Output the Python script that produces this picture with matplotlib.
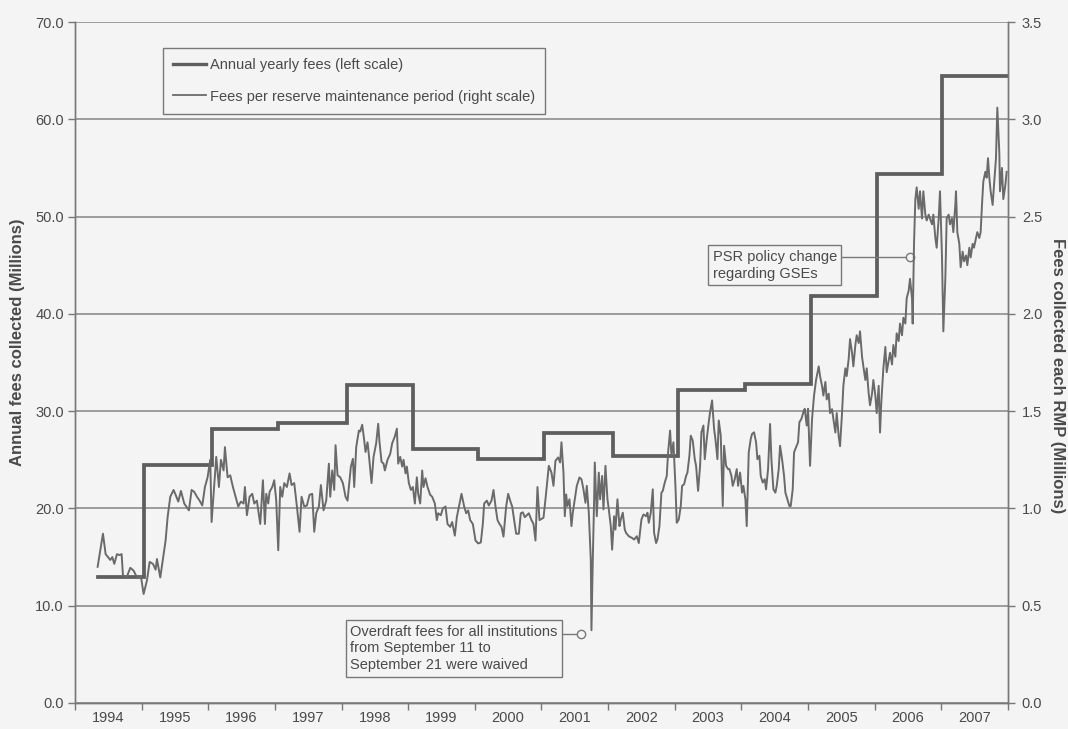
import matplotlib
matplotlib.use("Agg")
import matplotlib.pyplot as plt
from matplotlib.lines import Line2D
import numpy as np

plt.rcParams['font.family'] = ['Liberation Sans', 'DejaVu Sans']

# ---------------------------------------------------------------- data
years = list(range(1994, 2008))
year_labels = [str(y) for y in years]
left_ticks = [0, 10, 20, 30, 40, 50, 60, 70]
right_ticks = [0.0, 0.5, 1.0, 1.5, 2.0, 2.5, 3.0, 3.5]

# Annual fees collected ($ millions, left scale) and the date each level starts
annual_start = [1994.34, 1995.04, 1996.05, 1997.05, 1998.08, 1999.07, 2000.05,
                2001.04, 2002.07, 2003.05, 2004.06, 2005.05, 2006.03, 2007.01]
annual_fees = [13.0, 24.5, 28.2, 28.8, 32.7, 26.1, 25.1,
               27.8, 25.4, 32.2, 32.8, 41.8, 54.4, 64.4]
annual_end = 2008.0

# Fees collected in each reserve maintenance period ($ millions, right scale)
rmp_dates = [
    1994.34, 1994.42, 1994.46, 1994.53, 1994.56, 1994.59, 1994.63, 1994.67, 1994.70, 1994.72,
    1994.78, 1994.83, 1994.88, 1994.93, 1994.99, 1995.03, 1995.08, 1995.12, 1995.17, 1995.21,
    1995.23, 1995.28, 1995.31, 1995.36, 1995.39, 1995.43, 1995.48, 1995.51, 1995.55, 1995.59,
    1995.64, 1995.67, 1995.71, 1995.75, 1995.79, 1995.83, 1995.87, 1995.91, 1995.95, 1995.99,
    1996.03, 1996.05, 1996.08, 1996.12, 1996.16, 1996.19, 1996.23, 1996.25, 1996.29, 1996.33,
    1996.37, 1996.41, 1996.45, 1996.49, 1996.53, 1996.55, 1996.58, 1996.62, 1996.66, 1996.69,
    1996.73, 1996.75, 1996.78, 1996.82, 1996.85, 1996.87, 1996.90, 1996.92, 1996.96, 1996.99,
    1997.02, 1997.05, 1997.08, 1997.11, 1997.14, 1997.18, 1997.22, 1997.25, 1997.29, 1997.33,
    1997.37, 1997.40, 1997.44, 1997.48, 1997.52, 1997.56, 1997.59, 1997.62, 1997.66, 1997.69,
    1997.73, 1997.77, 1997.81, 1997.83, 1997.86, 1997.89, 1997.91, 1997.94, 1997.98, 1998.02,
    1998.06, 1998.09, 1998.11, 1998.14, 1998.17, 1998.19, 1998.22, 1998.26, 1998.28, 1998.31,
    1998.34, 1998.36, 1998.39, 1998.41, 1998.45, 1998.48, 1998.52, 1998.55, 1998.57, 1998.60,
    1998.63, 1998.65, 1998.69, 1998.73, 1998.76, 1998.80, 1998.83, 1998.85, 1998.88, 1998.91,
    1998.93, 1998.96, 1998.98, 1999.01, 1999.04, 1999.07, 1999.10, 1999.13, 1999.15, 1999.18,
    1999.21, 1999.23, 1999.26, 1999.29, 1999.33, 1999.36, 1999.40, 1999.43, 1999.45, 1999.49,
    1999.52, 1999.56, 1999.59, 1999.63, 1999.66, 1999.70, 1999.73, 1999.77, 1999.80, 1999.84,
    1999.87, 1999.90, 1999.93, 1999.97, 2000.01, 2000.05, 2000.09, 2000.12, 2000.14, 2000.18,
    2000.21, 2000.25, 2000.28, 2000.31, 2000.34, 2000.37, 2000.40, 2000.43, 2000.47, 2000.50,
    2000.53, 2000.56, 2000.59, 2000.62, 2000.66, 2000.69, 2000.72, 2000.75, 2000.78, 2000.81,
    2000.85, 2000.88, 2000.91, 2000.94, 2000.97, 2001.03, 2001.06, 2001.11, 2001.15, 2001.18,
    2001.21, 2001.25, 2001.28, 2001.30, 2001.33, 2001.35, 2001.37, 2001.39, 2001.42, 2001.45,
    2001.47, 2001.50, 2001.53, 2001.57, 2001.60, 2001.63, 2001.66, 2001.68, 2001.71, 2001.74,
    2001.75, 2001.77, 2001.79, 2001.80, 2001.83, 2001.86, 2001.88, 2001.91, 2001.93, 2001.96,
    2001.99, 2002.01, 2002.04, 2002.06, 2002.09, 2002.11, 2002.14, 2002.17, 2002.19, 2002.22,
    2002.25, 2002.27, 2002.31, 2002.36, 2002.39, 2002.43, 2002.46, 2002.50, 2002.53, 2002.57,
    2002.59, 2002.61, 2002.64, 2002.67, 2002.69, 2002.72, 2002.74, 2002.77, 2002.80, 2002.82,
    2002.85, 2002.88, 2002.90, 2002.93, 2002.95, 2002.98, 2003.01, 2003.03, 2003.06, 2003.09,
    2003.11, 2003.14, 2003.17, 2003.19, 2003.22, 2003.24, 2003.27, 2003.30, 2003.32, 2003.35,
    2003.38, 2003.40, 2003.43, 2003.45, 2003.48, 2003.51, 2003.53, 2003.56, 2003.59, 2003.61,
    2003.64, 2003.66, 2003.69, 2003.72, 2003.74, 2003.77, 2003.80, 2003.82, 2003.85, 2003.87,
    2003.90, 2003.93, 2003.95, 2003.98, 2004.01, 2004.03, 2004.06, 2004.08, 2004.11, 2004.14,
    2004.16, 2004.19, 2004.22, 2004.24, 2004.27, 2004.29, 2004.32, 2004.35, 2004.37, 2004.40,
    2004.43, 2004.45, 2004.48, 2004.51, 2004.53, 2004.56, 2004.58, 2004.61, 2004.64, 2004.66,
    2004.69, 2004.72, 2004.74, 2004.77, 2004.79, 2004.82, 2004.85, 2004.87, 2004.90, 2004.93,
    2004.95, 2004.98, 2005.00, 2005.03, 2005.06, 2005.09, 2005.12, 2005.16, 2005.18, 2005.21,
    2005.23, 2005.26, 2005.28, 2005.31, 2005.33, 2005.36, 2005.38, 2005.41, 2005.43, 2005.46,
    2005.48, 2005.51, 2005.53, 2005.56, 2005.58, 2005.61, 2005.63, 2005.66, 2005.68, 2005.71,
    2005.73, 2005.76, 2005.78, 2005.81, 2005.83, 2005.86, 2005.88, 2005.91, 2005.93, 2005.96,
    2005.98, 2006.01, 2006.03, 2006.06, 2006.08, 2006.10, 2006.13, 2006.16, 2006.18, 2006.21,
    2006.23, 2006.26, 2006.28, 2006.31, 2006.33, 2006.36, 2006.38, 2006.41, 2006.43, 2006.46,
    2006.48, 2006.51, 2006.53, 2006.56, 2006.57, 2006.59, 2006.61, 2006.63, 2006.66, 2006.68,
    2006.71, 2006.73, 2006.76, 2006.78, 2006.81, 2006.83, 2006.86, 2006.88, 2006.91, 2006.93,
    2006.96, 2006.98, 2007.01, 2007.03, 2007.06, 2007.08, 2007.11, 2007.13, 2007.16, 2007.18,
    2007.21, 2007.22, 2007.24, 2007.27, 2007.29, 2007.32, 2007.34, 2007.37, 2007.39, 2007.42,
    2007.44, 2007.47, 2007.49, 2007.52, 2007.54, 2007.57, 2007.59, 2007.61, 2007.63, 2007.66,
    2007.68, 2007.70, 2007.72, 2007.74, 2007.77, 2007.79, 2007.82, 2007.84, 2007.87, 2007.88,
    2007.91, 2007.93, 2007.96, 2007.98,
]
rmp_fees = [
    0.700, 0.870, 0.765, 0.735, 0.750, 0.715, 0.765, 0.760, 0.765, 0.655,
    0.650, 0.695, 0.680, 0.645, 0.650, 0.560, 0.630, 0.725, 0.715, 0.685,
    0.740, 0.645, 0.715, 0.835, 0.955, 1.060, 1.095, 1.070, 1.035, 1.090,
    1.025, 1.010, 0.990, 1.095, 1.085, 1.060, 1.040, 1.015, 1.110, 1.160,
    1.250, 0.930, 1.075, 1.265, 1.110, 1.250, 1.195, 1.315, 1.160, 1.170,
    1.110, 1.060, 1.010, 1.035, 1.025, 1.110, 0.965, 1.060, 1.075, 1.025,
    1.040, 0.990, 0.920, 1.145, 0.920, 1.075, 1.025, 1.085, 1.110, 1.145,
    1.040, 0.785, 1.110, 1.060, 1.130, 1.110, 1.180, 1.120, 1.130, 1.010,
    0.880, 1.060, 1.010, 1.015, 1.070, 1.075, 0.880, 0.975, 1.010, 1.120,
    0.990, 1.040, 1.230, 1.060, 1.195, 1.095, 1.325, 1.170, 1.160, 1.130,
    1.060, 1.040, 1.110, 1.215, 1.255, 1.110, 1.315, 1.400, 1.395, 1.430,
    1.350, 1.290, 1.340, 1.275, 1.130, 1.265, 1.335, 1.435, 1.340, 1.240,
    1.230, 1.195, 1.250, 1.280, 1.335, 1.370, 1.410, 1.230, 1.265, 1.215,
    1.250, 1.180, 1.215, 1.130, 1.095, 1.110, 1.025, 1.160, 1.075, 1.025,
    1.195, 1.110, 1.155, 1.110, 1.070, 1.060, 1.025, 0.940, 0.975, 0.965,
    1.000, 1.010, 0.920, 0.905, 0.930, 0.860, 0.955, 1.025, 1.075, 1.010,
    0.975, 0.990, 0.940, 0.920, 0.835, 0.820, 0.825, 0.920, 1.025, 1.040,
    1.015, 1.040, 1.095, 1.010, 0.940, 0.920, 0.905, 0.855, 1.010, 1.075,
    1.040, 1.010, 0.940, 0.870, 0.870, 0.975, 0.980, 0.955, 0.965, 0.975,
    0.940, 0.920, 0.835, 1.110, 0.940, 0.952, 1.047, 1.219, 1.184, 1.116,
    1.245, 1.262, 1.236, 1.340, 1.184, 0.960, 1.072, 1.012, 1.047, 0.909,
    0.978, 1.047, 1.116, 1.159, 1.150, 1.098, 1.029, 1.116, 0.978, 0.736,
    0.374, 0.736, 1.047, 1.236, 0.960, 1.184, 1.047, 1.167, 0.995, 1.219,
    1.047, 0.995, 0.909, 0.788, 0.960, 0.891, 1.047, 0.909, 0.943, 0.978,
    0.891, 0.874, 0.857, 0.848, 0.840, 0.857, 0.822, 0.943, 0.969, 0.960,
    0.978, 0.926, 0.978, 1.098, 0.874, 0.822, 0.840, 0.909, 1.081, 1.090,
    1.133, 1.167, 1.288, 1.400, 1.271, 1.340, 1.116, 0.926, 0.943, 1.012,
    1.116, 1.124, 1.167, 1.184, 1.271, 1.374, 1.348, 1.253, 1.219, 1.090,
    1.219, 1.391, 1.426, 1.253, 1.357, 1.443, 1.495, 1.555, 1.409, 1.357,
    1.253, 1.452, 1.374, 1.012, 1.322, 1.219, 1.202, 1.202, 1.167, 1.116,
    1.150, 1.202, 1.116, 1.184, 1.081, 1.116, 1.047, 0.909, 1.288, 1.357,
    1.383, 1.391, 1.340, 1.253, 1.271, 1.167, 1.133, 1.150, 1.098, 1.202,
    1.434, 1.253, 1.098, 1.081, 1.116, 1.202, 1.322, 1.253, 1.167, 1.081,
    1.047, 1.012, 1.012, 1.098, 1.288, 1.314, 1.340, 1.443, 1.460, 1.495,
    1.512, 1.426, 1.512, 1.219, 1.460, 1.580, 1.660, 1.730, 1.680, 1.630,
    1.580, 1.650, 1.560, 1.590, 1.490, 1.510, 1.460, 1.390, 1.490, 1.370,
    1.320, 1.490, 1.630, 1.720, 1.680, 1.770, 1.870, 1.800, 1.730, 1.840,
    1.890, 1.850, 1.910, 1.780, 1.730, 1.660, 1.720, 1.590, 1.530, 1.590,
    1.660, 1.580, 1.490, 1.630, 1.390, 1.550, 1.720, 1.830, 1.700, 1.760,
    1.800, 1.740, 1.840, 1.780, 1.900, 1.860, 1.950, 1.890, 1.980, 1.950,
    2.080, 2.120, 2.180, 2.080, 1.950, 2.360, 2.590, 2.650, 2.540, 2.630,
    2.490, 2.630, 2.510, 2.480, 2.510, 2.490, 2.460, 2.510, 2.390, 2.340,
    2.490, 2.630, 2.290, 1.910, 2.180, 2.490, 2.510, 2.460, 2.490, 2.420,
    2.560, 2.630, 2.420, 2.360, 2.240, 2.320, 2.270, 2.300, 2.250, 2.340,
    2.290, 2.360, 2.340, 2.390, 2.420, 2.390, 2.420, 2.560, 2.680, 2.730,
    2.700, 2.800, 2.700, 2.630, 2.560, 2.660, 2.800, 3.060, 2.830, 2.630,
    2.750, 2.590, 2.660, 2.730,
]

labels = ["Annual yearly fees (left scale)",
          "Fees per reserve maintenance period (right scale)"]
note_overdraft = ("Overdraft fees for all institutions\n"
                  "from September 11 to\n"
                  "September 21 were waived")
note_psr = "PSR policy change\nregarding GSEs"

# ---------------------------------------------------------------- style
BG = "#f4f4f4"
TXT = "#4a4a4a"
AXC = "#787878"
GRID = "#858585"
STEP_C = "#5e5e5e"
RMP_C = "#6a6a6a"

fig = plt.figure(figsize=(10.68, 7.29), dpi=100, facecolor=BG)
ax = fig.add_axes([0.0702, 0.0357, 0.8736, 0.9341])
ax.set_facecolor(BG)
ax2 = ax.twinx()

# annual step line on the left scale
ax.step(annual_start + [annual_end], annual_fees + [annual_fees[-1]],
        where="post", color=STEP_C, lw=2.7, zorder=3, solid_joinstyle="miter")

# per-period line on the right scale
ax2.plot(rmp_dates, rmp_fees, color=RMP_C, lw=1.4, zorder=3)

# axes ranges and ticks
ax.set_xlim(1994, 2008)
ax.set_ylim(left_ticks[0], left_ticks[-1])
ax2.set_ylim(right_ticks[0], right_ticks[-1])

ax.set_yticks(left_ticks)
ax.set_yticklabels([f"{v:.1f}" for v in left_ticks])
ax2.set_yticks(right_ticks)
ax2.set_yticklabels([f"{v:.1f}" for v in right_ticks])

ax.set_xticks(years + [2008])
ax.set_xticklabels([])
ax.set_xticks([y + 0.5 for y in years], minor=True)
ax.set_xticklabels(year_labels, minor=True)
ax.tick_params(axis="x", which="major", direction="out", length=5,
               color=AXC, width=1)
ax.tick_params(axis="x", which="minor", length=0, pad=6,
               labelsize=10.5, labelcolor=TXT)
ax.tick_params(axis="y", direction="out", length=5, color=AXC, width=1,
               labelsize=10.5, labelcolor=TXT, pad=3)
ax2.tick_params(axis="y", direction="out", length=5, color=AXC, width=1,
                labelsize=10.5, labelcolor=TXT, pad=5)

ax.grid(axis="y", color=GRID, lw=1.1, zorder=1)
ax.set_axisbelow(True)

for a in (ax, ax2):
    a.spines["top"].set_visible(False)
    for s in ("left", "right", "bottom"):
        a.spines[s].set_color(AXC)
        a.spines[s].set_linewidth(1.0)

ax.set_ylabel("Annual fees collected (Millions)", fontsize=12,
              fontweight="bold", color=TXT, va="center")
ax.yaxis.set_label_coords(-0.062, 0.53)
ax2.set_ylabel("Fees collected each RMP (Millions)", fontsize=12,
               fontweight="bold", color=TXT, rotation=270, va="center")
ax2.yaxis.set_label_coords(1.053, 0.48)

# legend
handles = [Line2D([], [], color=STEP_C, lw=2.4),
           Line2D([], [], color=RMP_C, lw=1.3)]
leg = ax2.legend(handles, labels, loc="upper left",
                 bbox_to_anchor=(0.094, 0.962), frameon=True, fancybox=False,
                 edgecolor=AXC, facecolor=BG, framealpha=1, fontsize=10.5,
                 labelcolor=TXT, handlelength=2.3, handletextpad=0.25,
                 labelspacing=1.2, borderpad=0.7, borderaxespad=0)
leg.get_frame().set_linewidth(1.0)

# callouts
box = dict(boxstyle="square,pad=0.3", facecolor=BG, edgecolor=AXC, lw=1.0)
ax.plot([2000.5, 2001.60], [7.1, 7.1], color=AXC, lw=1.0, zorder=5)
ax.plot([2001.60], [7.1], marker="o", ms=6, mfc=BG, mec=AXC, mew=1.0, zorder=6)
ax.text(1998.13, 5.6, note_overdraft, fontsize=10.5, color=TXT, ha="left",
        va="center", linespacing=1.25, bbox=box, zorder=7)

ax.plot([2004.8, 2006.53], [45.8, 45.8], color=AXC, lw=1.0, zorder=5)
ax.plot([2006.53], [45.8], marker="o", ms=6, mfc=BG, mec=AXC, mew=1.0, zorder=6)
ax.text(2003.57, 45.0, note_psr, fontsize=10.5, color=TXT, ha="left",
        va="center", linespacing=1.25, bbox=box, zorder=7)

fig.savefig("out.png", dpi=100, facecolor=BG)
